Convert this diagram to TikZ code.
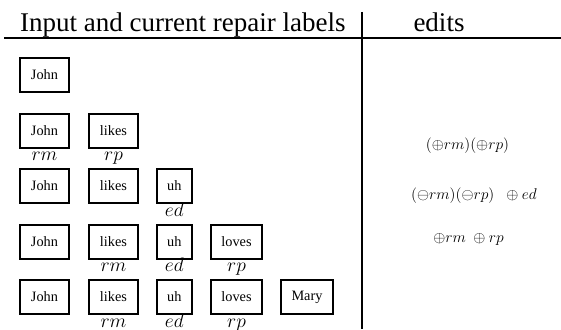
\RequirePackage{fix-cm}
\documentclass[tikz,border=0pt]{standalone}
\usepackage{fontspec}
\setmainfont{Liberation Serif}
\usetikzlibrary{positioning}
\tikzset{
  word/.style={draw, line width=2pt, minimum height=34pt, inner xsep=10.5pt, font=\fontsize{14.3}{17}\selectfont},
  lab/.style={inner sep=0pt, text height=12pt, text depth=4pt, font=\fontsize{19.5}{22}\selectfont},
  edit/.style={inner sep=0pt, font=\fontsize{15.5}{18}\selectfont},
  head/.style={inner sep=0pt, font=\fontsize{27}{30}\selectfont}
}
\begin{document}
\begin{tikzpicture}[x=1pt,y=-1pt]
\useasboundingbox (0,0) rectangle (561,329);
\node[head, anchor=base west] (hin) at (20,32) {Input and current repair labels};
\node[head, anchor=base] (hed) at (439,32) {edits};
\draw[line width=2pt] (4,38) -- (561,38);
\draw[line width=2pt] (362,12) -- (362,329);
\foreach \r [evaluate=\r as \y using 75+55.5*(\r-1)] in {1,...,5} {
  \foreach \w/\x [count=\c] in {John/44.5, likes/113.5, uh/174.3, loves/236.5, Mary/307} {
    \ifnum\c>\r\else \node[word] (w\r-\c) at (\x,\y) {\w}; \fi
  }
}
\node[lab, below=0pt of w2-1] {$rm$};
\node[lab, below=0pt of w2-2] {$rp$};
\node[lab, below=0pt of w3-3] {$ed$};
\node[lab, below=0pt of w4-2] {$rm$};
\node[lab, below=0pt of w4-3] {$ed$};
\node[lab, below=0pt of w4-4] {$rp$};
\node[lab, below=0pt of w5-2] {$rm$};
\node[lab, below=0pt of w5-3] {$ed$};
\node[lab, below=0pt of w5-4] {$rp$};
\node[edit] (e2) at (467.5,146) {$(\oplus rm)(\oplus rp)$};
\node[edit] (e3) at (474,196) {$(\ominus rm)(\ominus rp)\;\;\oplus ed$};
\node[edit] (e4) at (468.5,239) {$\oplus rm\ \oplus rp$};
\end{tikzpicture}
\end{document}
